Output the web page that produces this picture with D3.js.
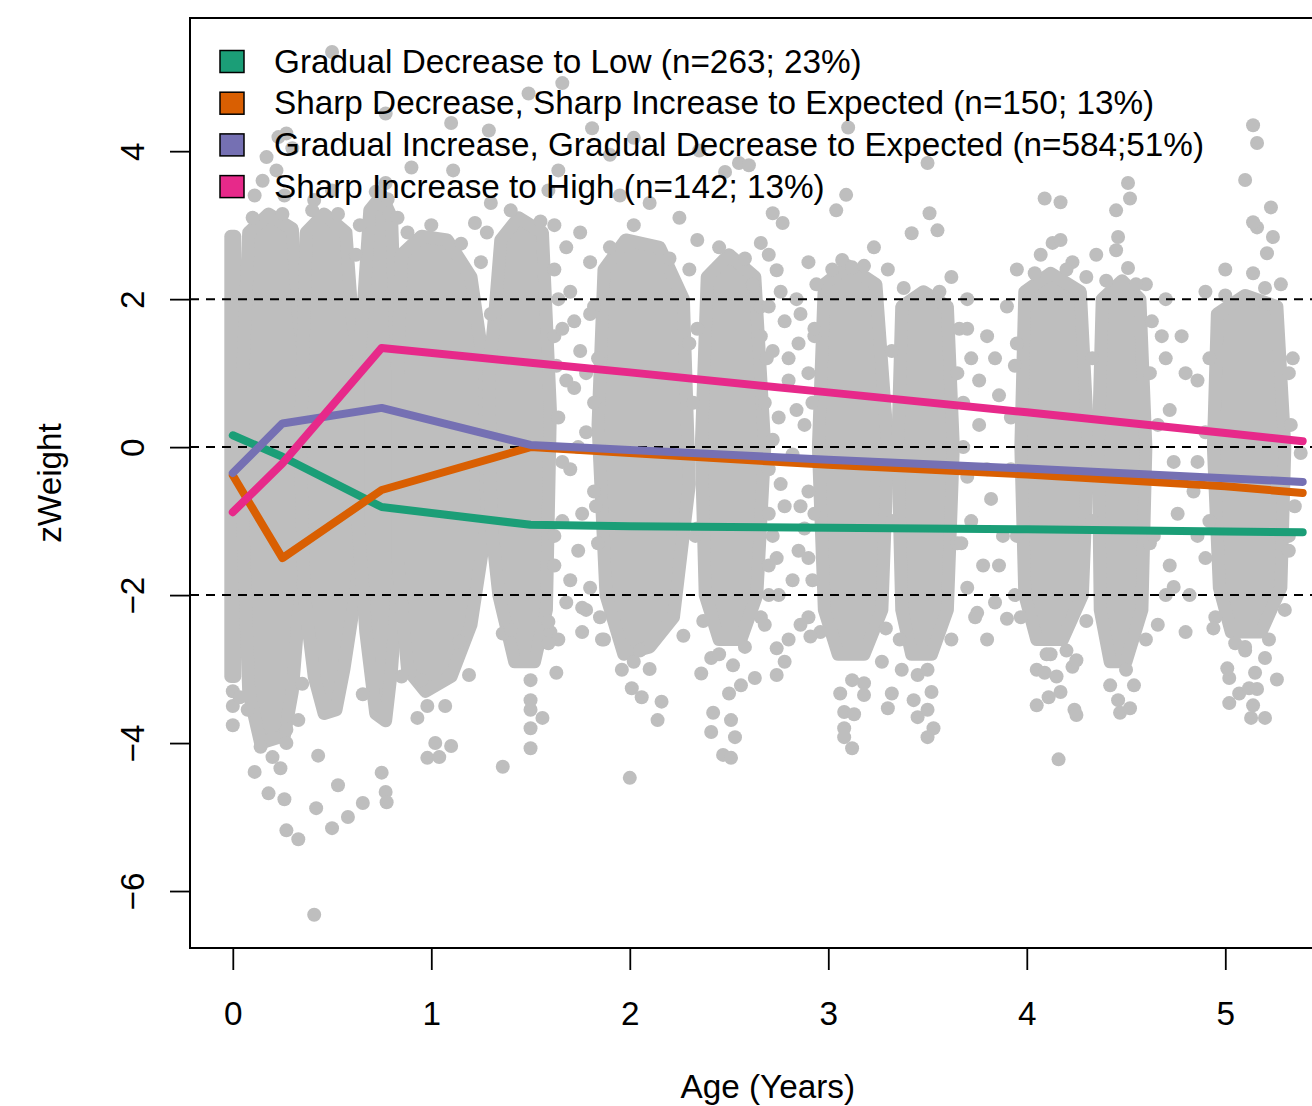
<!DOCTYPE html>
<html>
<head>
<meta charset="utf-8">
<script src="https://cdn.jsdelivr.net/npm/d3@7"></script>
<style>
  body { margin: 0; background: #fff; }
  svg { display: block; font-family: "Liberation Sans", Arial, Helvetica, sans-serif; }
</style>
</head>
<body>
<svg id="chart" width="1312" height="1106"></svg>
<script>
// ---- data ----
var xTicks = [0, 1, 2, 3, 4, 5]
var yTicks = [-6, -4, -2, 0, 2, 4]
var refLines = [-2, 0, 2]

var groupNames = [
  'Gradual Decrease to Low (n=263; 23%)',
  'Sharp Decrease, Sharp Increase to Expected (n=150; 13%)',
  'Gradual Increase, Gradual Decrease to Expected (n=584;51%)',
  'Sharp Increase to High (n=142; 13%)'
]
var groupColors = ['#1B9E77', '#D95F02', '#7570B3', '#E7298A']

// mean trajectories at each visit age
var lineAges = [0, 0.25, 0.75, 1.5, 2, 3, 4, 5, 5.39]
var lowZ = [0.16, -0.13, -0.81, -1.05, -1.07, -1.09, -1.11, -1.14, -1.15]
var sharpDecZ = [-0.38, -1.5, -0.58, 0.0, -0.08, -0.24, -0.37, -0.53, -0.62]
var gradIncZ = [-0.35, 0.32, 0.53, 0.03, -0.04, -0.17, -0.29, -0.42, -0.47]
var highZ = [-0.88, -0.22, 1.34, 1.14, 1.01, 0.74, 0.47, 0.19, 0.08]

// outlines of the solid (overplotted) part of each visit cloud, [age, z]
var cloudCores = [
  [[-0.01, 2.85], [0.01, 2.85], [0.01, -3.1], [-0.01, -3.1]],
  [[0.08, 2.9], [0.18, 3.15], [0.3, 2.95], [0.33, 1.8], [0.37, 1.0], [0.37, -1.5], [0.33, -2.3], [0.3, -3.3], [0.26, -3.9], [0.14, -4.0], [0.08, -3.3], [0.05, -1.0], [0.05, 1.0]],
  [[0.37, 2.9], [0.46, 3.15], [0.57, 2.9], [0.6, 1.8], [0.64, 1.0], [0.64, -1.5], [0.6, -2.3], [0.56, -3.0], [0.52, -3.55], [0.46, -3.6], [0.41, -3.1], [0.36, -2.0], [0.34, 0]],
  [[0.69, 3.2], [0.75, 3.4], [0.8, 3.1], [0.82, 1.5], [0.84, 0.5], [0.84, -1.5], [0.8, -3.0], [0.77, -3.7], [0.72, -3.6], [0.67, -2.5], [0.63, -1.0], [0.63, 1.0], [0.66, 2.0]],
  [[0.85, 2.6], [0.95, 2.85], [1.08, 2.8], [1.2, 2.3], [1.27, 1.0], [1.28, -1.0], [1.2, -2.4], [1.1, -3.1], [0.97, -3.3], [0.88, -3.0], [0.83, -1.5], [0.83, 1.0]],
  [[1.35, 2.8], [1.44, 3.1], [1.56, 2.9], [1.6, 0.5], [1.58, -2.2], [1.52, -2.9], [1.42, -2.9], [1.34, -2.0], [1.3, -1.0], [1.29, 1.0], [1.32, 1.8]],
  [[1.87, 2.4], [1.98, 2.8], [2.15, 2.7], [2.27, 2.0], [2.3, -0.5], [2.22, -2.3], [2.1, -2.7], [1.97, -2.8], [1.88, -2.0], [1.84, 0.3]],
  [[2.39, 2.3], [2.5, 2.6], [2.63, 2.3], [2.68, 0], [2.64, -2.0], [2.56, -2.6], [2.45, -2.6], [2.38, -2.0], [2.36, 0]],
  [[2.98, 2.2], [3.1, 2.45], [3.24, 2.2], [3.3, 0], [3.27, -2.2], [3.18, -2.8], [3.05, -2.8], [2.98, -2.2], [2.95, 0]],
  [[3.37, 1.9], [3.48, 2.1], [3.6, 1.9], [3.63, 0], [3.6, -2.2], [3.52, -2.8], [3.42, -2.8], [3.37, -2.2], [3.35, 0]],
  [[3.99, 2.1], [4.12, 2.35], [4.27, 2.1], [4.31, 0], [4.28, -2.0], [4.18, -2.6], [4.05, -2.6], [3.99, -2.0], [3.97, 0]],
  [[4.38, 2.0], [4.48, 2.25], [4.57, 2.0], [4.6, 0], [4.58, -2.2], [4.5, -2.9], [4.42, -2.9], [4.37, -2.2], [4.36, 0]],
  [[4.96, 1.8], [5.1, 2.05], [5.26, 1.9], [5.3, 0], [5.28, -1.9], [5.18, -2.5], [5.03, -2.5], [4.97, -1.9], [4.94, 0]]
]

// individual observations that stand apart from the solid cores, [age, z]
var cloudPoints = [
  // top, early visits
  [0.27, 4.24], [0.3, 4.04], [0.17, 3.92], [0.22, 3.74], [0.15, 3.6], [0.23, 4.19], [0.11, 3.4], [0.26, 3.4],
  [0.5, 5.34], [0.77, 4.51], [0.9, 3.78], [0.77, 3.57], [0.5, 3.47], [0.41, 3.34], [0.62, 2.6], [0.64, 3.0], [0.83, 3.1],
  [0.1, 3.1], [0.25, 3.15], [0.4, 3.2], [0.53, 3.15], [0.72, 3.45], [0.78, 3.35], [0.88, 2.9], [1.0, 3.0], [1.15, 2.75],
  [1.1, 4.38], [1.29, 4.28], [1.49, 4.78], [1.66, 4.92], [1.81, 4.31], [1.9, 3.95], [2.02, 4.18], [1.11, 3.74],
  [1.64, 3.74], [1.59, 3.47], [1.22, 3.03], [1.25, 2.5], [1.28, 2.9], [1.3, 3.3], [1.62, 3.0], [1.68, 2.7],
  [1.75, 2.9], [1.8, 2.5], [2.3, 2.4], [2.34, 2.8], [2.25, 3.1], [2.1, 3.3], [1.95, 3.4], [1.4, 3.2], [1.55, 3.05],
  [2.35, 4.01], [2.48, 3.72], [2.55, 3.84], [2.02, 3.0], [2.2, 2.55], [1.9, 2.7],
  // top, later visits
  [5.14, 4.35], [5.16, 4.11], [5.1, 3.61], [5.23, 3.24], [5.16, 2.97], [5.24, 2.84], [5.21, 2.62], [5.14, 2.35], [5.14, 3.04],
  [3.1, 4.32], [3.5, 3.84], [2.6, 3.81], [3.09, 3.41], [3.04, 3.2], [2.72, 3.16], [2.77, 3.03],
  [4.09, 3.36], [4.17, 3.31], [4.51, 3.57], [4.52, 3.36], [4.45, 3.2], [3.51, 3.16], [3.55, 2.93], [3.42, 2.89],
  [3.23, 2.7], [2.66, 2.76], [4.13, 2.76], [4.17, 2.8], [4.46, 2.84], [4.45, 2.66], [3.07, 2.53], [3.12, 2.43],
  [2.74, 2.39], [4.23, 2.5], [4.51, 2.42], [4.07, 2.6], [2.7, 2.6], [2.9, 2.5], [3.3, 2.4], [3.62, 2.3], [3.7, 2.0],
  [3.95, 2.4], [4.3, 2.3], [4.35, 2.6], [4.6, 2.2], [4.7, 2.0], [4.9, 2.1], [5.0, 2.4], [5.28, 2.2],
  [2.45, 2.7], [2.58, 2.55], [2.66, 1.9], [3.02, 2.4], [3.18, 2.45], [3.38, 2.15], [3.56, 2.1],
  [4.04, 2.35], [4.2, 2.4], [4.4, 2.25], [4.55, 2.2], [5.0, 2.05], [5.2, 2.15],
  // cloud edges
  [1.82, 1.9], [1.83, -0.8], [1.85, -2.3], [2.3, 1.4], [2.32, 0.6], [2.33, -1.2], [2.27, -2.55],
  [2.34, 1.6], [2.34, -1.1], [2.37, -2.35], [2.69, 1.2], [2.7, -0.9], [2.66, -2.3],
  [2.93, 1.5], [2.93, -0.9], [2.96, -2.5], [3.32, 1.3], [3.32, -1.0], [3.29, -2.45], [3.27, -2.9],
  [3.65, 1.0], [3.65, -1.3], [3.62, -2.6], [3.36, -2.6],
  [3.95, 1.4], [3.95, -1.2], [3.97, -2.3], [4.33, 1.2], [4.33, -1.0], [4.3, -2.35], [4.12, -2.8],
  [4.62, 1.0], [4.62, -1.3], [4.6, -2.6],
  [4.92, 1.2], [4.92, -1.0], [4.95, -2.3], [5.32, 1.0], [5.32, -1.2], [5.3, -2.2], [5.1, -2.75],
  [1.3, 1.8], [1.3, -1.0], [1.62, 1.5], [1.62, -1.2], [1.6, -2.5],
  // between clouds
  [1.62, 2.4], [1.7, 2.1], [1.66, 1.6], [1.75, 1.3], [1.8, 1.8], [1.72, 0.8], [1.64, 0.4], [1.78, 0.2], [1.7, -0.3],
  [1.82, -0.6], [1.66, -1.0], [1.74, -1.4], [1.8, -1.9], [1.68, -2.1], [1.76, -2.5], [1.62, -1.6], [1.63, 1.1],
  [1.64, 2.0], [1.72, 1.7], [1.78, 1.0], [1.68, 0.9], [1.84, 1.2], [1.66, -0.2], [1.76, -0.9], [1.84, -1.3],
  [1.7, -1.8], [1.64, -2.6], [1.82, 0.6], [1.74, 0.0], [1.78, -2.2],
  [2.62, 2.2], [2.7, 1.9], [2.78, 1.7], [2.85, 1.4], [2.72, 1.3], [2.9, 1.0], [2.8, 0.9], [2.68, 0.6], [2.75, 0.4],
  [2.88, 0.3], [2.82, -0.1], [2.7, -0.3], [2.9, -0.6], [2.78, -0.8], [2.72, -1.2], [2.85, -1.4], [2.92, -1.8],
  [2.75, -2.0], [2.68, -2.4], [2.8, -2.6], [2.9, -2.3], [2.84, 2.0], [2.93, 1.6], [2.7, -1.6], [2.88, -1.1],
  [2.76, 2.1], [2.86, 1.8], [2.94, 2.2], [2.66, 1.5], [2.8, 1.2], [2.92, 0.6], [2.72, 0.1], [2.84, 0.5],
  [2.94, -0.2], [2.76, -0.5], [2.86, -0.8], [2.74, -1.5], [2.82, -1.8], [2.9, -1.5], [2.7, -2.0], [2.86, -2.4], [2.78, -2.9],
  [3.66, 1.6], [3.72, 1.2], [3.8, 1.5], [3.9, 1.9], [3.68, 0.6], [3.76, 0.3], [3.86, 0.7], [3.7, -0.4], [3.82, -0.7],
  [3.92, -0.3], [3.67, -1.3], [3.78, -1.6], [3.88, -1.2], [3.94, -2.0], [3.74, -2.3], [3.84, -2.1], [3.94, 1.1],
  [3.7, 1.6], [3.84, 1.2], [3.76, 0.9], [3.92, 0.4], [3.68, 0.0], [3.8, -0.3], [3.72, -1.0], [3.86, -1.6],
  [3.7, -1.9], [3.8, -2.6],
  [4.63, 1.7], [4.7, 1.2], [4.78, 1.5], [4.86, 0.9], [4.66, 0.3], [4.74, -0.2], [4.84, -0.6], [4.9, 0.2],
  [4.64, -1.2], [4.72, -1.6], [4.82, -2.0], [4.9, -1.5], [4.66, -2.4],
  [4.68, 1.5], [4.8, 1.0], [4.72, 0.5], [4.86, -0.2], [4.76, -0.9], [4.7, -2.0], [4.86, -1.2], [4.8, -2.5],
  [5.33, 0.3], [5.35, -0.8], [5.32, -1.4], [5.34, 1.2], [5.38, -0.08],
  // bottom tails, early visits
  [0, -3.3], [0, -3.5], [0, -3.76], [0.035, -3.38], [0.075, -3.55],
  [0.14, -4.05], [0.2, -4.19], [0.24, -4.34], [0.27, -3.82], [0.27, -4.0],
  [0.11, -4.39], [0.18, -4.68], [0.26, -4.76], [0.27, -5.18], [0.33, -5.3], [0.43, -4.17], [0.42, -4.88],
  [0.5, -5.15], [0.53, -4.57], [0.58, -5.0], [0.655, -4.81], [0.75, -4.4], [0.77, -4.66], [0.775, -4.8],
  [0.41, -6.32], [0.655, -3.34], [0.35, -3.2], [0.33, -3.69], [0.85, -3.1], [0.95, -3.15], [0.93, -3.66],
  [0.98, -3.5], [1.02, -4.0], [1.1, -4.04], [0.98, -4.2], [1.04, -4.19], [1.07, -3.5], [1.14, -2.63],
  [1.19, -3.08], [1.36, -4.32], [1.36, -2.52], [1.4, -2.47], [1.5, -4.07], [1.5, -3.8], [1.5, -3.55],
  [1.5, -3.42], [1.56, -3.66], [1.5, -3.15], [1.63, -3.05], [1.59, -2.65], [1.59, -2.36], [1.76, -2.17],
  [1.86, -2.6], [1.96, -3.01], [2.01, -3.26],
  // bottom tails, later visits
  [2.0, -4.47], [2.14, -3.69], [2.06, -3.38], [2.16, -3.44], [1.87, -2.6], [2.02, -2.9], [2.1, -3.0], [2.05, -2.75],
  [2.41, -2.85], [2.36, -3.06], [2.5, -3.33], [2.56, -3.22], [2.63, -3.12], [2.42, -3.59], [2.41, -3.85],
  [2.51, -3.69], [2.53, -3.92], [2.47, -4.16], [2.51, -4.2], [2.74, -2.72], [2.74, -3.08], [2.91, -2.56],
  [2.45, -2.8], [2.52, -2.95], [2.58, -2.7],
  [3.06, -3.33], [3.08, -3.58], [3.13, -3.61], [3.08, -3.8], [3.08, -3.92], [3.12, -4.07], [3.18, -3.35],
  [3.18, -3.19], [3.12, -3.15], [3.3, -3.53], [3.32, -3.33], [3.37, -3.01], [3.43, -3.42], [3.45, -3.65],
  [3.5, -3.55], [3.53, -3.8], [3.5, -3.92], [3.52, -3.31], [3.45, -3.08], [3.5, -3.01], [3.75, -2.24], [3.9, -2.32],
  [4.05, -3.49], [4.11, -3.38], [4.17, -3.31], [4.16, -4.22], [4.24, -3.55], [4.25, -3.62], [4.05, -3.01],
  [4.09, -3.05], [4.23, -2.97], [4.25, -2.88], [4.1, -2.8], [4.15, -3.1], [4.2, -2.75],
  [4.42, -3.22], [4.46, -3.42], [4.47, -3.59], [4.52, -3.53], [4.54, -3.22], [4.5, -3.01],
  [4.74, -1.89], [4.94, -2.45], [5.02, -3.46], [5.07, -3.33], [5.12, -3.26], [5.16, -3.27], [5.14, -3.49],
  [5.13, -3.66], [5.2, -3.66], [5.26, -3.14], [5.02, -3.12], [5.01, -2.99], [5.15, -3.05],
  [5.1, -2.7], [5.2, -2.85], [5.05, -2.65], [5.22, -2.6]
]

// ---- drawing ----
var svg = d3.select('svg')
var plot = { left: 190, top: 18, right: 1345.5, bottom: 948 }
var fontSize = '33.3px'

var x = d3.scaleLinear().domain([-0.2156, 5.6056]).range([plot.left, plot.right])
var y = d3.scaleLinear().domain([-6.77, 5.8]).range([plot.bottom, plot.top])

svg.append('clipPath').attr('id', 'clip')
  .append('rect')
  .attr('x', plot.left).attr('y', plot.top)
  .attr('width', plot.right - plot.left).attr('height', plot.bottom - plot.top)

var g = svg.append('g').attr('clip-path', 'url(#clip)')

var gray = '#BEBEBE'

var blob = d3.line()
  .x(function (d) { return x(d[0]) })
  .y(function (d) { return y(d[1]) })
  .curve(d3.curveLinearClosed)

g.selectAll('.core')
  .data(cloudCores)
  .enter()
  .append('path')
  .attr('class', 'core')
  .attr('d', blob)
  .attr('fill', gray)
  .attr('stroke', gray)
  .attr('stroke-width', 13)
  .attr('stroke-linejoin', 'round')

g.selectAll('.pt')
  .data(cloudPoints)
  .enter()
  .append('circle')
  .attr('class', 'pt')
  .attr('cx', function (d) { return x(d[0]) })
  .attr('cy', function (d) { return y(d[1]) })
  .attr('r', 7)
  .attr('fill', gray)

// dashed reference lines
g.selectAll('.ref')
  .data(refLines)
  .enter()
  .append('line')
  .attr('x1', plot.left).attr('x2', plot.right)
  .attr('y1', function (d) { return y(d) })
  .attr('y2', function (d) { return y(d) })
  .attr('stroke', '#000')
  .attr('stroke-width', 2)
  .attr('stroke-dasharray', '9,7')

// trajectories
var series = [lowZ, sharpDecZ, gradIncZ, highZ]
var traj = d3.line()
  .x(function (d, i) { return x(lineAges[i]) })
  .y(function (d) { return y(d) })

g.selectAll('.traj')
  .data(series)
  .enter()
  .append('path')
  .attr('class', 'traj')
  .attr('d', traj)
  .attr('fill', 'none')
  .attr('stroke', function (d, i) { return groupColors[i] })
  .attr('stroke-width', 8)
  .attr('stroke-linecap', 'round')
  .attr('stroke-linejoin', 'round')

// box
svg.append('rect')
  .attr('x', plot.left).attr('y', plot.top)
  .attr('width', plot.right - plot.left).attr('height', plot.bottom - plot.top)
  .attr('fill', 'none')
  .attr('stroke', '#000')
  .attr('stroke-width', 2)

// axes
var xAxis = svg.append('g')
  .attr('transform', 'translate(0,' + plot.bottom + ')')
  .call(d3.axisBottom(x).tickValues(xTicks).tickFormat(d3.format('d'))
    .tickSize(22).tickSizeOuter(0).tickPadding(31))
xAxis.select('.domain').remove()

var yAxis = svg.append('g')
  .attr('transform', 'translate(' + plot.left + ',0)')
  .call(d3.axisLeft(y).tickValues(yTicks).tickSize(20).tickSizeOuter(0))
yAxis.select('.domain').remove()
yAxis.selectAll('.tick text')
  .attr('x', null)
  .attr('dy', '0.35em')
  .attr('transform', 'translate(-58,0) rotate(-90)')
  .attr('text-anchor', 'middle')

svg.selectAll('.tick line').attr('stroke', '#000').attr('stroke-width', 1.8)
svg.selectAll('.tick text')
  .attr('fill', '#000')
  .style('font-size', fontSize)
  .style('font-family', '"Liberation Sans", Arial, Helvetica, sans-serif')

svg.append('text')
  .attr('x', (plot.left + plot.right) / 2)
  .attr('y', 1098)
  .attr('text-anchor', 'middle')
  .style('font-size', fontSize)
  .text('Age (Years)')

svg.append('text')
  .attr('transform', 'translate(61,' + (plot.top + plot.bottom) / 2 + ') rotate(-90)')
  .attr('text-anchor', 'middle')
  .style('font-size', fontSize)
  .text('zWeight')

// legend (no background, drawn over the points)
var legend = svg.selectAll('.legend')
  .data(groupNames)
  .enter()
  .append('g')
  .attr('class', 'legend')
  .attr('transform', function (d, i) { return 'translate(0,' + (61.5 + i * 41.7) + ')' })

legend.append('rect')
  .attr('x', 220).attr('y', -11)
  .attr('width', 24).attr('height', 22)
  .attr('fill', function (d, i) { return groupColors[i] })
  .attr('stroke', '#000')
  .attr('stroke-width', 1.5)

legend.append('text')
  .attr('x', 274)
  .attr('y', 11)
  .style('font-size', fontSize)
  .text(function (d) { return d })
</script>
</body>
</html>
